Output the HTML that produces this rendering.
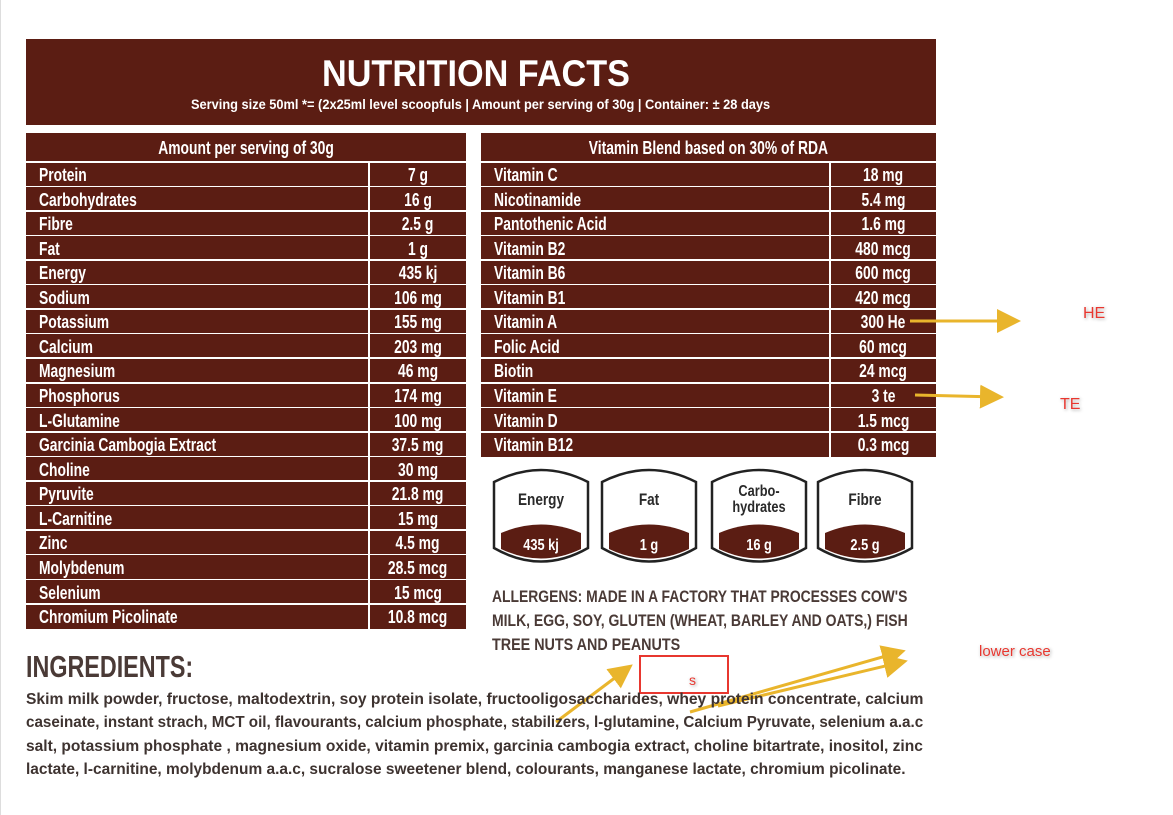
<!DOCTYPE html>
<html><head><meta charset="utf-8"><style>
body{margin:0;width:1173px;height:815px;background:#fff;position:relative;overflow:hidden;font-family:"Liberation Sans",sans-serif;}
.a{position:absolute}
.br{background:#5b1d13}
.t{position:absolute;color:#fff;font-weight:bold;font-size:18px;line-height:24px;white-space:nowrap}
.s{display:inline-block;transform:scaleX(0.77);transform-origin:left center}
.c .s{transform-origin:center center}
.hl{position:absolute;height:2px;background:#fff}
.lbl{position:absolute;color:#e8372f;font-family:"Liberation Sans",sans-serif;font-size:16px;text-shadow:0 0 2px #fff,1px 1px 3px #999}
.fit{position:absolute;white-space:nowrap;transform-origin:left top;font-weight:bold}
</style></head><body>
<div style="position:absolute;left:0;top:0;width:1px;height:815px;background:#ddd"></div>
<div class="a br" style="left:26px;top:39px;width:910px;height:86px"></div>
<div class="fit" data-w="308" style="left:322px;top:52px;color:#fff;font-size:37px;line-height:44px;font-weight:900">NUTRITION FACTS</div>
<div class="fit" data-w="579" style="left:191px;top:95px;color:#fff;font-size:14px;line-height:18px">Serving size 50ml *= (2x25ml level scoopfuls | Amount per serving of 30g | Container: ± 28 days</div>
<div id="L"></div><div id="R"></div>
<svg class="a" style="left:0;top:0" width="1173" height="815">
<g id="shields"></g>
<defs><marker id="ar" markerWidth="8" markerHeight="8" refX="6" refY="4" orient="auto"><path d="M0,0 L8,4 L0,8z" fill="#e9b52c"/></marker></defs>
<g stroke="#e9b52c" stroke-width="3" marker-end="url(#ar)" fill="none">
<line x1="910" y1="321" x2="1015" y2="321"/>
<line x1="915" y1="395" x2="998" y2="397"/>
<line x1="556" y1="722" x2="628" y2="668"/>
<line x1="690" y1="712" x2="900" y2="652"/>
<line x1="718" y1="706" x2="902" y2="662"/>
</g>
<rect x="640" y="656" width="88" height="37" fill="none" stroke="#e8372f" stroke-width="2"/>
</svg>
<div class="lbl" style="left:1083px;top:305px">HE</div>
<div class="lbl" style="left:1060px;top:396px">TE</div>
<div class="lbl" style="left:979px;top:643px;font-size:15px">lower case</div>
<div class="lbl" style="left:689px;top:672px;font-size:14px">s</div>
<div class="fit" data-w="415" style="left:492px;top:586px;color:#4a3a36;font-size:17px;line-height:22px">ALLERGENS: MADE IN A FACTORY THAT PROCESSES COW'S</div>
<div class="fit" data-w="416" style="left:492px;top:610px;color:#4a3a36;font-size:17px;line-height:22px">MILK, EGG, SOY, GLUTEN (WHEAT, BARLEY AND OATS,) FISH</div>
<div class="fit" data-w="188" style="left:492px;top:634px;color:#4a3a36;font-size:17px;line-height:22px">TREE NUTS AND PEANUTS</div>
<div class="fit" data-w="167" style="left:26px;top:649px;color:#4a3a36;font-size:31px;line-height:36px">INGREDIENTS:</div>
<div class="fit" data-w="897" style="left:26px;top:690px;color:#3e3330;font-size:16px;line-height:20px">Skim milk powder, fructose, maltodextrin, soy protein isolate, fructooligosaccharides, whey protein concentrate, calcium</div>
<div class="fit" data-w="897" style="left:26px;top:713px;color:#3e3330;font-size:16px;line-height:20px">caseinate, instant strach, MCT oil, flavourants, calcium phosphate, stabilizers, l-glutamine, Calcium Pyruvate, selenium a.a.c</div>
<div class="fit" data-w="897" style="left:26px;top:737px;color:#3e3330;font-size:16px;line-height:20px">salt, potassium phosphate , magnesium oxide, vitamin premix, garcinia cambogia extract, choline bitartrate, inositol, zinc</div>
<div class="fit" data-w="880" style="left:26px;top:760px;color:#3e3330;font-size:16px;line-height:20px">lactate, l-carnitine, molybdenum a.a.c, sucralose sweetener blend, colourants, manganese lactate, chromium picolinate.</div>
<script>
function table(id,x,w,div,head,rows){
 const top=133,rh=24.56;let h='';
 const H=29+rows.length*rh;
 h+=`<div class="a br" style="left:${x}px;top:${top}px;width:${w}px;height:${H}px"></div>`;
 h+=`<div class="t c" style="left:${x}px;top:${top+3}px;width:${w}px;text-align:center;font-weight:bold"><span class="s">${head}</span></div>`;
 h+=`<div class="hl" style="left:${x}px;top:${top+28}px;width:${w}px"></div>`;
 h+=`<div class="a" style="left:${div}px;top:${top+29}px;width:2px;height:${H-29}px;background:#fff"></div>`;
 rows.forEach((r,i)=>{const y=top+30+i*rh;
  h+=`<div class="t" style="left:${x+13}px;top:${y}px"><span class="s">${r[0]}</span></div>`;
  h+=`<div class="t c" style="left:${div+2}px;top:${y}px;width:${x+w-div-2}px;text-align:center"><span class="s">${r[1]}</span></div>`;
  if(i<rows.length-1)h+=`<div class="hl" style="left:${x}px;top:${y+rh-2}px;width:${w}px;height:1.5px"></div>`;});
 document.getElementById(id).innerHTML=h;}
table('L',26,440,368,'Amount per serving of 30g',[['Protein','7 g'],['Carbohydrates','16 g'],['Fibre','2.5 g'],['Fat','1 g'],['Energy','435 kj'],['Sodium','106 mg'],['Potassium','155 mg'],['Calcium','203 mg'],['Magnesium','46 mg'],['Phosphorus','174 mg'],['L-Glutamine','100 mg'],['Garcinia Cambogia Extract','37.5 mg'],['Choline','30 mg'],['Pyruvite','21.8 mg'],['L-Carnitine','15 mg'],['Zinc','4.5 mg'],['Molybdenum','28.5 mcg'],['Selenium','15 mcg'],['Chromium Picolinate','10.8 mcg']]);
table('R',481,455,829,'Vitamin Blend based on 30% of RDA',[['Vitamin C','18 mg'],['Nicotinamide','5.4 mg'],['Pantothenic Acid','1.6 mg'],['Vitamin B2','480 mcg'],['Vitamin B6','600 mcg'],['Vitamin B1','420 mcg'],['Vitamin A','300 He'],['Folic Acid','60 mcg'],['Biotin','24 mcg'],['Vitamin E','3 te'],['Vitamin D','1.5 mcg'],['Vitamin B12','0.3 mcg']]);
let s='';[[492,'Energy','','435 kj'],[600,'Fat','','1 g'],[710,'Carbo-','hydrates','16 g'],[816,'Fibre','','2.5 g']].forEach(([x,a,b,v])=>{
 s+=`<path d="M${x+2},482 Q${x+49},458 ${x+96},482 L${x+96},548 Q${x+49},575 ${x+2},548 Z" fill="#fff" stroke="#222" stroke-width="2.5"/>`;
 s+=`<path d="M${x+9},549 L${x+9},533 Q${x+49},516 ${x+89},533 L${x+89},549 Q${x+49},568 ${x+9},549 Z" fill="#5b1d13"/>`;
 const fs='font-family="Liberation Sans,sans-serif" font-weight="bold" text-anchor="middle"';
 const sc=(t,y,f,c)=>`<text transform="translate(${x+49},${y}) scale(0.8,1)" ${fs} font-size="${f}" fill="${c}">${t}</text>`;
 if(b){s+=sc(a,496,16,'#2a2a2a')+sc(b,512,16,'#2a2a2a');}
 else s+=sc(a,505,17,'#2a2a2a');
 s+=sc(v,550,16,'#fff');});
document.getElementById('shields').innerHTML=s;
document.querySelectorAll('.fit').forEach(e=>{const w=e.scrollWidth;e.style.transform=`scaleX(${(+e.dataset.w)/w})`;});
</script>
</body></html>
